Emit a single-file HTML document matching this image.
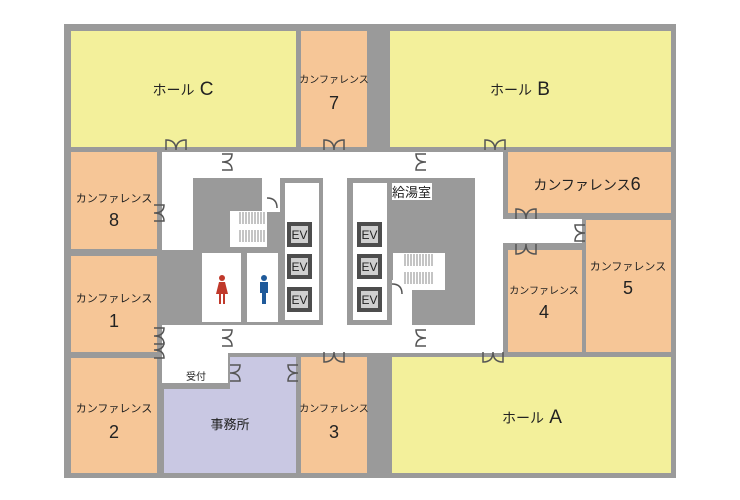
<!DOCTYPE html>
<html><head><meta charset="utf-8"><style>
html,body{margin:0;padding:0;background:#fff;}
svg{display:block;}
text{font-family:"Liberation Sans","Noto Sans CJK JP",sans-serif;fill:#222;}
</style></head><body>
<svg width="740" height="500" viewBox="0 0 740 500" xmlns="http://www.w3.org/2000/svg">
<rect x="0" y="0" width="740" height="500" fill="#fff"/>
<rect x="64" y="24" width="612" height="454" fill="#9a9a9a"/>
<rect x="71" y="31" width="225" height="116" fill="#f3f09b"/>
<rect x="301" y="31" width="66" height="116" fill="#f6c697"/>
<rect x="390" y="31" width="281" height="116" fill="#f3f09b"/>
<rect x="71" y="152" width="86" height="97" fill="#f6c697"/>
<rect x="71" y="256" width="86" height="96" fill="#f6c697"/>
<rect x="71" y="358" width="86" height="115" fill="#f6c697"/>
<rect x="508" y="152" width="163" height="61" fill="#f6c697"/>
<rect x="586" y="220" width="85" height="132" fill="#f6c697"/>
<rect x="508" y="250" width="74" height="102" fill="#f6c697"/>
<rect x="301" y="357" width="66" height="116" fill="#f6c697"/>
<rect x="392" y="357" width="279" height="116" fill="#f3f09b"/>
<rect x="230" y="357" width="66" height="33" fill="#c9c8e3"/>
<rect x="164" y="389" width="132" height="84" fill="#c9c8e3"/>
<g fill="#fff">
<rect x="162" y="152" width="341" height="26"/>
<rect x="162" y="152" width="31" height="98"/>
<rect x="262" y="178" width="18" height="34"/>
<rect x="230" y="211" width="37" height="36"/>
<rect x="323" y="178" width="24" height="147"/>
<rect x="475" y="152" width="28" height="201"/>
<rect x="162" y="325" width="341" height="28"/>
<rect x="162" y="325" width="66" height="58"/>
<rect x="503" y="219" width="79" height="24"/>
<rect x="202" y="253" width="39" height="69"/>
<rect x="247" y="253" width="31" height="69"/>
<rect x="285" y="183" width="34" height="137"/>
<rect x="353" y="183" width="34" height="137"/>
<rect x="393" y="253" width="52" height="37"/>
<rect x="392" y="280" width="20" height="45"/>
<rect x="392" y="183" width="40" height="17"/>
</g>
<g stroke="#888" stroke-width="1">
<path d="M240 212v12M243 212v12M246 212v12M249 212v12M252 212v12M255 212v12M258 212v12M261 212v12M264 212v12"/>
<path d="M240 230v12M243 230v12M246 230v12M249 230v12M252 230v12M255 230v12M258 230v12M261 230v12M264 230v12"/>
<path d="M405 254v12M408 254v12M411 254v12M414 254v12M417 254v12M420 254v12M423 254v12M426 254v12M429 254v12M432 254v12"/>
<path d="M405 272v12M408 272v12M411 272v12M414 272v12M417 272v12M420 272v12M423 272v12M426 272v12M429 272v12M432 272v12"/>
</g>
<g>
<rect x="287" y="222" width="25" height="25" fill="#4d4d4d"/><rect x="291" y="226" width="17" height="17" fill="#cfcfcf"/>
<rect x="287" y="254" width="25" height="25" fill="#4d4d4d"/><rect x="291" y="258" width="17" height="17" fill="#cfcfcf"/>
<rect x="287" y="287" width="25" height="25" fill="#4d4d4d"/><rect x="291" y="291" width="17" height="17" fill="#cfcfcf"/>
<rect x="357" y="222" width="25" height="25" fill="#4d4d4d"/><rect x="361" y="226" width="17" height="17" fill="#cfcfcf"/>
<rect x="357" y="254" width="25" height="25" fill="#4d4d4d"/><rect x="361" y="258" width="17" height="17" fill="#cfcfcf"/>
<rect x="357" y="287" width="25" height="25" fill="#4d4d4d"/><rect x="361" y="291" width="17" height="17" fill="#cfcfcf"/>
</g>
<g font-size="12" text-anchor="middle">
<text x="299.5" y="239">EV</text><text x="299.5" y="271">EV</text><text x="299.5" y="304">EV</text>
<text x="369.5" y="239">EV</text><text x="369.5" y="271">EV</text><text x="369.5" y="304">EV</text>
</g>
<g fill="#c0392b"><circle cx="222" cy="278" r="3"/><path d="M219 282h6l3 12h-3v10h-2v-10h-2v10h-2v-10h-3z"/></g>
<g fill="#1f5a9a"><circle cx="264" cy="278" r="3"/><path d="M260 282h8v11h-2v11h-2v-11h-0v11h-2v-11h-2z"/></g>
<g fill="none" stroke="#555" stroke-width="1.5">
<path d="M166 150v-10q10 0 10 10q0-10 10-10v10"/>
<path d="M324 150v-10q10 0 10 10q0-10 10-10v10"/>
<path d="M485 150v-10q10 0 10 10q0-10 10-10v10"/>
<path d="M516 219v-10q10 0 10 10q0-10 10-10v10"/>
<path d="M516 244v10q10 0 10-10q0 10 10 10v-10"/>
<path d="M483 352v10q10 0 10-10q0 10 10 10v-10"/>
<path d="M324 352v10q10 0 10-10q0 10 10 10v-10"/>
<path d="M222 154h10q0 8-10 8q10 0 10 8h-10"/>
<path d="M426 154h-10q0 8 10 8q-10 0-10 8h10"/>
<path d="M154 205h10q0 8-10 8q10 0 10 8h-10"/>
<path d="M154 328h10q0 8-10 8q10 0 10 8h-10"/>
<path d="M154 358h10q0 -8-10-8q10 0 10-8"/>
<path d="M222 330h10q0 8-10 8q10 0 10 8h-10"/>
<path d="M426 330h-10q0 8 10 8q-10 0-10 8h10"/>
<path d="M230 365h10q0 8-10 8q10 0 10 8h-10"/>
<path d="M298 365h-10q0 8 10 8q-10 0-10 8h10"/>
<path d="M585 225h-10q0 8 10 8q-10 0-10 8h10"/>
<path d="M267 198q10 0 10 10"/>
<path d="M392 284q10 0 10 10"/>
</g>
<g text-anchor="middle">
<text x="183" y="95" font-size="14">ホール<tspan font-size="19"> C</tspan></text>
<text x="520" y="95" font-size="14">ホール<tspan font-size="19"> B</tspan></text>
<text x="532" y="423" font-size="14">ホール<tspan font-size="19"> A</tspan></text>
<text x="334" y="83" font-size="10">カンファレンス</text><text x="334" y="109" font-size="18">7</text>
<text x="114" y="202" font-size="11">カンファレンス</text><text x="114" y="226" font-size="18">8</text>
<text x="114" y="302" font-size="11">カンファレンス</text><text x="114" y="327" font-size="18">1</text>
<text x="114" y="412" font-size="11">カンファレンス</text><text x="114" y="438" font-size="18">2</text>
<text x="334" y="412" font-size="10">カンファレンス</text><text x="334" y="438" font-size="18">3</text>
<text x="544" y="294" font-size="10">カンファレンス</text><text x="544" y="318" font-size="18">4</text>
<text x="628" y="270" font-size="11">カンファレンス</text><text x="628" y="294" font-size="18">5</text>
<text x="587" y="190" font-size="14">カンファレンス<tspan font-size="18">6</tspan></text>
<text x="230" y="429" font-size="13">事務所</text>
<text x="196" y="380" font-size="10">受付</text>
</g>
<text x="392" y="197" font-size="13">給湯室</text>
</svg>
</body></html>
